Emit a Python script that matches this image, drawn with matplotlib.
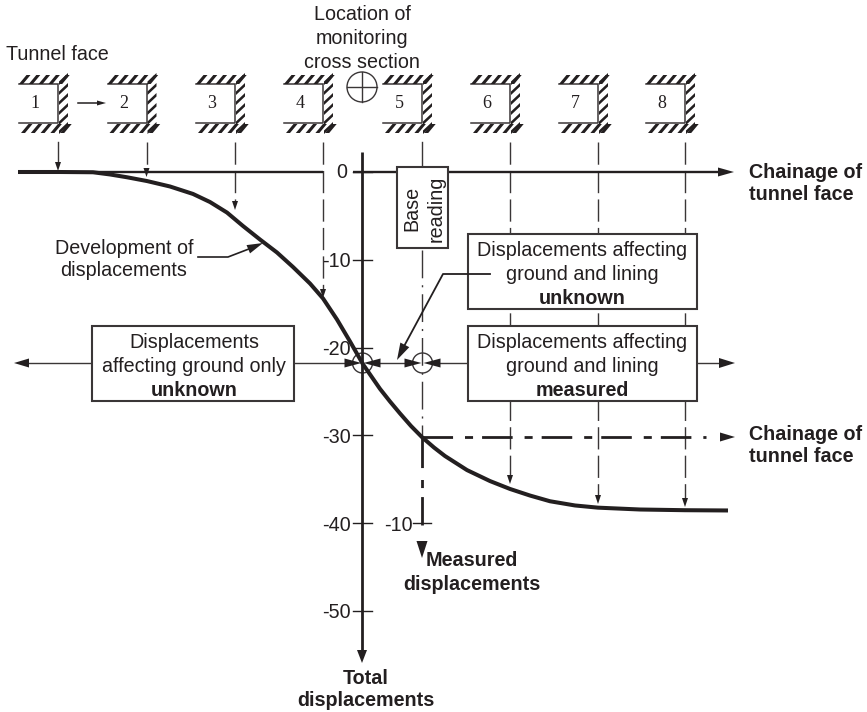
import matplotlib
matplotlib.use("Agg")
import matplotlib.pyplot as plt
from matplotlib.patches import Circle, Polygon, Rectangle

plt.rcParams["font.family"] = ["Liberation Sans", "DejaVu Sans"]
plt.rcParams["lines.scale_dashes"] = False

# curve: chainage (px along the axis) and displacement
chainage = [18, 60, 93, 110, 127, 147, 170, 193, 210, 227, 243, 260, 277, 293, 310, 323, 337, 350, 363,
            380, 390, 400, 411, 422, 434, 445, 456, 467, 490, 510, 530, 550, 575, 598, 640, 685, 728]
displacement = [0, 0, -0.03, -0.28, -0.6, -1.03, -1.65, -2.5, -3.42, -4.62, -6.15, -7.69, -9.17, -10.82,
                -12.7, -14.4, -16.8, -19.3, -21.9, -24.7, -26.14, -27.5, -28.93, -30.2, -31.38, -32.35,
                -33.15, -33.95, -35.2, -36.1, -36.85, -37.5, -37.98, -38.23, -38.44, -38.52, -38.55]
total_ticks = [0, -10, -20, -30, -40, -50]
measured_tick = -30 - 10
face_numbers = ["1", "2", "3", "4", "5", "6", "7", "8"]
face_walls = [58, 146.5, 235, 323, 422, 510, 598, 685]
face_tips = [171, 177, 210, 298, None, 484, 504, 507]

INK = "#231f20"
LINE = "#3a3637"
W, H = 867, 712
PX_PER_UNIT = 8.78
AXIS_PY = 172
FONT = 14.2


def py(val):
    return AXIS_PY - val * PX_PER_UNIT


fig = plt.figure(figsize=(W / 100, H / 100), dpi=100)
sk = fig.add_axes([0, 0, 1, 1], zorder=1)
sk.set_xlim(0, W)
sk.set_ylim(H, 0)
sk.axis("off")
ax = fig.add_axes([0, 0, 1, 1], zorder=2)
ax.patch.set_alpha(0)
ax.set_xlim(0, W)
ax.set_ylim((AXIS_PY - H) / PX_PER_UNIT, AXIS_PY / PX_PER_UNIT)
ax.axis("off")


def head(x, y, dx, dy, length=9, width=6, zorder=6):
    # filled arrow head with its tip at x, y, pointing along dx, dy
    px, py_ = -dy, dx
    pts = [(x, y),
           (x - dx * length + px * width / 2, y - dy * length + py_ * width / 2),
           (x - dx * length - px * width / 2, y - dy * length - py_ * width / 2)]
    sk.add_patch(Polygon(pts, closed=True, fc=INK, ec="none", zorder=zorder))


def box(x0, y0, x1, y1):
    sk.add_patch(Rectangle((x0, y0), x1 - x0, y1 - y0, fc="white", ec=LINE, lw=1.5, zorder=4))


def label(x, y, s, **kw):
    kw.setdefault("ha", "center")
    kw.setdefault("va", "center")
    kw.setdefault("fontsize", FONT)
    kw.setdefault("color", INK)
    kw.setdefault("zorder", 7)
    sk.text(x, y + 1, s, **kw)


def stripe(pts):
    sk.add_patch(Polygon(pts, closed=True, fc=INK, ec="none", zorder=3, snap=False))


# tunnel faces
for num, wall in zip(face_numbers, face_walls):
    left = wall - 39
    sk.plot([left, wall, wall, left], [84, 84, 123, 123], color=LINE, lw=1.1, zorder=3)
    for i in range(5):
        x = left + i * 9.8
        stripe([(x, 84), (x + 4, 84), (x + 11.5, 75), (x + 7.5, 75)])
        x = left + 2 + i * 9.8
        stripe([(x, 133), (x + 4, 133), (x + 11.5, 124), (x + 7.5, 124)])
    for y in [85, 95, 105, 115, 125, 134]:
        stripe([(wall + 1, y), (wall + 1, y - 3.5), (wall + 10, y - 12), (wall + 10, y - 8.5)])
    label(wall - 23, 103, num, family=["Liberation Serif"], fontsize=13)

# drop lines from the faces to the curve
for wall, tip in zip(face_walls, face_tips):
    if tip is None:
        continue
    if wall == face_walls[0]:
        sk.plot([wall, wall], [142, tip - 6], color=LINE, lw=1, zorder=2)
    else:
        sk.plot([wall, wall], [142, tip - 6], color=LINE, lw=1, dashes=(16, 4.5), zorder=2)
    head(wall, tip, 0, 1, 9, 6)

# location 5: base reading line
sk.plot([422, 422], [142, 165], color=LINE, lw=1, zorder=2)
sk.plot([422, 422], [250, 437], color=LINE, lw=1, dashes=(20, 5, 1.5, 5), zorder=2)

# tunnel face arrow and monitoring section
sk.plot([78, 98], [103, 103], color=INK, lw=1.1)
head(106, 103, 1, 0, 9, 5)
sk.add_patch(Circle((362, 87), 15, fc="none", ec=LINE, lw=1))
sk.plot([347, 377], [87, 87], color=LINE, lw=1)
sk.plot([362, 362], [72, 102], color=LINE, lw=1)

# chainage axis
sk.plot([18, 323], [172, 172], color=INK, lw=1.7, solid_capstyle="butt", zorder=3)
sk.plot([353, 397], [172, 172], color=INK, lw=1.7, solid_capstyle="butt", zorder=3)
sk.plot([448, 722], [172, 172], color=INK, lw=1.7, solid_capstyle="butt", zorder=3)
head(734, 172, 1, 0, 16, 9)

# horizontal line through the two circles
for x0, x1 in [(29, 92), (294, 350), (380, 405), (440, 468), (697, 720)]:
    sk.plot([x0, x1], [363, 363], color=LINE, lw=1, zorder=3)
head(14, 363, -1, 0, 15, 9)
head(735, 363, 1, 0, 16, 10)
for cx in [362.5, 422.5]:
    sk.add_patch(Circle((cx, 363), 10, fc="none", ec=LINE, lw=1, zorder=3))
    head(cx - 1, 363, 1, 0, 17, 9)
    head(cx + 1, 363, -1, 0, 17, 9)

# measured displacement axis, chainage at the base reading
sk.plot([422, 706], [437, 437], color=INK, lw=2, dashes=(22, 8.6, 5.8, 6.5), zorder=3)
head(735, 437, 1, 0, 15, 9)
sk.plot([422, 422], [437, 525], color=INK, lw=2, dashes=(22, 8.6, 5.8, 6.5), zorder=3)
head(422, 558, 0, 1, 17, 11)

# boxes
box(92, 326, 294, 400.5)
box(397, 167, 448, 248)
box(468, 234, 697, 309)
box(468, 326, 697, 400.5)

# leaders
sk.plot([198, 228, 254], [257, 257, 247], color=INK, lw=1.2, zorder=5)
head(263, 243, 0.92, -0.39, 16, 9)
sk.plot([490, 443, 402], [274, 274, 350], color=INK, lw=1.3, zorder=5)
head(397, 360, -0.46, 0.89, 17, 10)

# total displacement axis, curve
ax.plot([362, 362], [(AXIS_PY - 152) / PX_PER_UNIT, (AXIS_PY - 652) / PX_PER_UNIT],
        color=INK, lw=2, solid_capstyle="butt", zorder=3)
head(362, 663, 0, 1, 13, 10)
for t in total_ticks[1:]:
    ax.plot([353, 372], [t, t], color=INK, lw=1, zorder=3)
    label(351, py(t) + 1, str(t), ha="right")
ax.plot([353, 372], [0, 0], color=INK, lw=1, zorder=3)
label(347, 172, "0", ha="right")
ax.plot([413, 431], [measured_tick, measured_tick], color=INK, lw=1, zorder=3)
label(413, py(measured_tick) + 1, "-10", ha="right")
ax.plot(chainage, displacement, color=INK, lw=2.9, solid_capstyle="butt",
        solid_joinstyle="round", zorder=5)

# texts
label(6, 53, "Tunnel face", ha="left")
label(362, 13, "Location of")
label(362, 37, "monitoring")
label(362, 62, "cross section")
label(124, 247, "Development of")
label(124, 269, "displacements")
label(412, 207, "Base", rotation=90)
label(436, 208, "reading", rotation=90)
label(194, 342, "Displacements")
label(194, 365, "affecting ground only")
label(194, 389, "unknown", fontweight="bold")
label(582, 250, "Displacements affecting")
label(582, 273, "ground and lining")
label(582, 297, "unknown", fontweight="bold")
label(582, 342, "Displacements affecting")
label(582, 365, "ground and lining")
label(582, 389, "measured", fontweight="bold")
label(749, 172, "Chainage of", ha="left", fontweight="bold")
label(749, 193, "tunnel face", ha="left", fontweight="bold")
label(749, 433, "Chainage of", ha="left", fontweight="bold")
label(749, 455, "tunnel face", ha="left", fontweight="bold")
label(426, 559, "Measured", ha="left", fontweight="bold")
label(403, 583, "displacements", ha="left", fontweight="bold")
label(366, 677, "Total", fontweight="bold")
label(366, 700, "displacements", fontweight="bold")

fig.savefig("out.png", dpi=100)
